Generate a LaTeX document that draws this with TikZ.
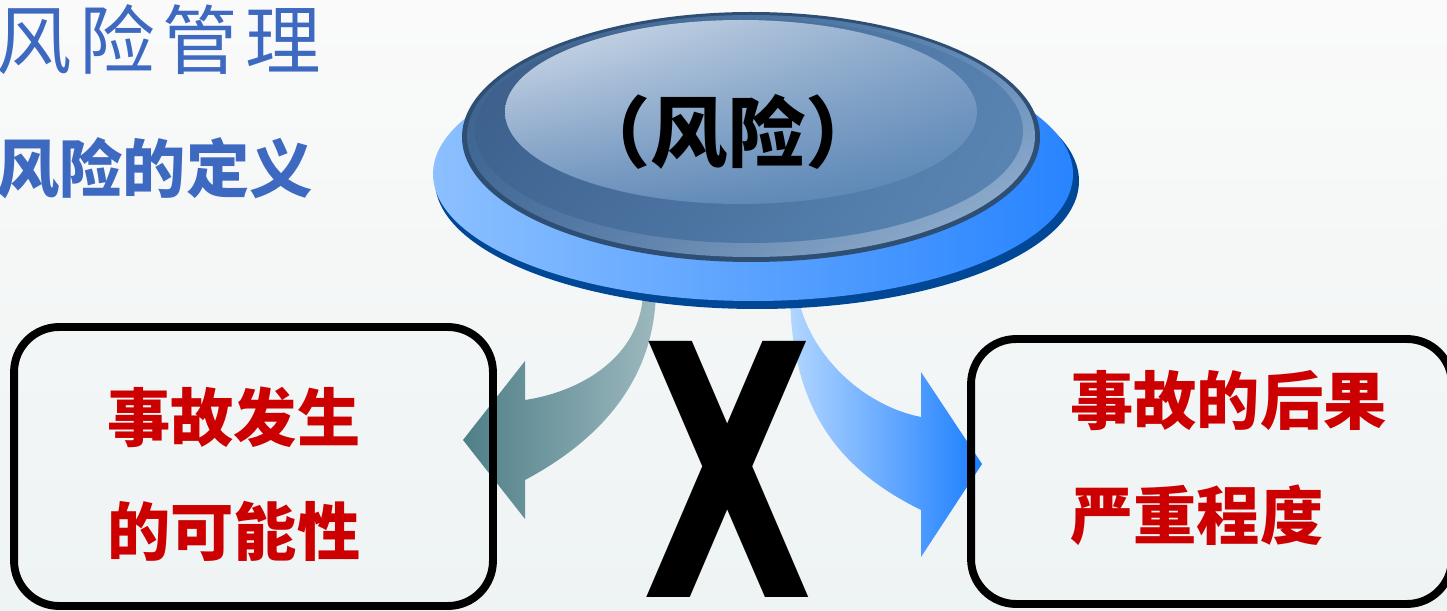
\documentclass[tikz,border=0pt]{standalone}
\usepackage{fontspec}
\usepackage{graphicx}
\usetikzlibrary{shadings}
\newfontfamily\cjk{Noto Sans CJK SC}
\newfontfamily\xfont{DejaVu Sans}
\definecolor{titleblue}{RGB}{62,105,192}
\definecolor{accred}{RGB}{204,0,0}
\definecolor{rimnavy}{RGB}{0,72,150}
\definecolor{discedge}{RGB}{46,78,116}

\begin{document}
\begin{tikzpicture}[x=0.02cm, y=-0.02cm,
	boxline/.style={draw=black, line width=4.5pt, rounded corners=0.9cm, inner sep=0pt},
	redtext/.style={text=accred, font=\cjk\bfseries\fontsize{36}{65}\selectfont, align=left, inner sep=0pt, anchor=west},
	heading/.style={text=titleblue, inner sep=0pt, anchor=west}]
	\useasboundingbox (0, 0) rectangle (1447, 611);
	\clip (0, 0) rectangle (1447, 611);
	\shade[top color={rgb,255:red,250;green,250;blue,250}, bottom color={rgb,255:red,238;green,243;blue,243}] (0, 0) rectangle (1447, 611);

	% headings
	\node[heading, font=\cjk\fontsize{43}{43}\selectfont\addfontfeature{LetterSpace=10}] (title) at (-4, 40) {风险管理};
	\node[heading, font=\cjk\bfseries\fontsize{36}{36}\selectfont] (subtitle) at (-4, 168) {风险的定义};

	% curved arrows out of the disc
	\shade[left color={rgb,255:red,79;green,127;blue,136}, right color={rgb,255:red,156;green,184;blue,190}]
		(656, 290) .. controls (655, 380) and (600, 440) .. (525, 480)
		-- (525, 519) -- (463, 440) -- (525, 361) -- (525, 400)
		.. controls (590, 390) and (643, 350) .. (643, 290) -- cycle;
	\shade[left color={rgb,255:red,178;green,214;blue,255}, right color={rgb,255:red,28;green,126;blue,255}]
		(797, 290) .. controls (805, 350) and (860, 405) .. (921, 417)
		-- (921, 372) -- (982, 464) -- (921, 557) -- (921, 510)
		.. controls (840, 470) and (790, 410) .. (790, 290) -- cycle;

	% lower disc
	\fill[rimnavy] (757, 181) ellipse [x radius=322, y radius=128];
	\shade[left color={rgb,255:red,140;green,192;blue,255}, right color={rgb,255:red,40;green,132;blue,255}]
		(753, 174) ellipse [x radius=320, y radius=127];

	% upper disc
	\fill[discedge] (751, 137) ellipse [x radius=289, y radius=125];
	\shade[upper left={rgb,255:red,58;green,94;blue,136}, upper right={rgb,255:red,92;green,134;blue,180},
		lower left={rgb,255:red,70;green,110;blue,156}, lower right={rgb,255:red,160;green,186;blue,214}]
		(751, 136) ellipse [x radius=284, y radius=121];
	\shade[upper left={rgb,255:red,58;green,92;blue,134}, upper right={rgb,255:red,86;green,128;blue,174},
		lower left={rgb,255:red,66;green,104;blue,150}, lower right={rgb,255:red,92;green,136;blue,182}]
		(749, 131) ellipse [x radius=274, y radius=112];
	\shade[upper left={rgb,255:red,214;green,224;blue,236}, upper right={rgb,255:red,138;green,168;blue,202},
		lower left={rgb,255:red,110;green,146;blue,188}, lower right={rgb,255:red,84;green,130;blue,180}]
		(741, 112) ellipse [x radius=236, y radius=92];
	\node[inner sep=0pt, font=\cjk\bfseries\fontsize{44}{44}\selectfont] (risk) at (728, 132) {（风险）};

	% the two factors
	\node[boxline, minimum width=9.58cm, minimum height=5.58cm] (lbox) at (253.5, 466.5) {};
	\node[boxline, minimum width=9.62cm, minimum height=5.30cm] (rbox) at (1211.5, 471.5) {};
	\node[redtext] (likely) at (107, 474) {事故发生\\的可能性};
	\node[redtext] (severe) at (1070, 458) {事故的后果\\严重程度};

	\node[inner sep=0pt, font=\xfont\bfseries\fontsize{200}{200}\selectfont] (times) at (728, 469) {\scalebox{0.63}[1]{X}};
\end{tikzpicture}
\end{document}
